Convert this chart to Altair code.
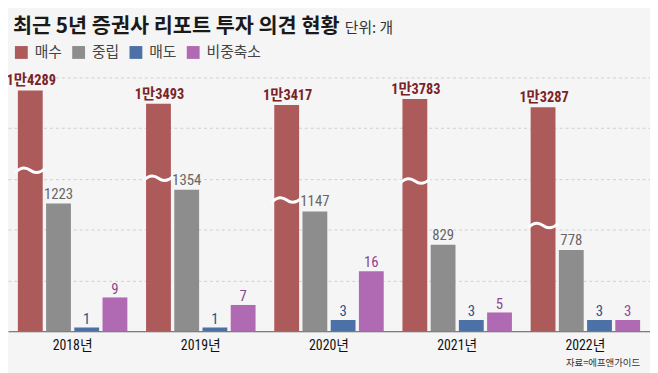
import altair as alt
import pandas as pd

# ---- data ----
years = ["2018", "2019", "2020", "2021", "2022"]
series = ["매수", "중립", "매도", "비중축소"]
buy = [14289, 13493, 13417, 13783, 13287]
neutral = [1223, 1354, 1147, 829, 778]
sell = [1, 1, 3, 3, 3]
reduce_w = [9, 7, 16, 5, 3]
# where the white "broken axis" squiggle sits on each 매수 bar (in 매수 units)
break_at = [9550, 9080, 7790, 8910, 6270]

title_text = "최근 5년 증권사 리포트 투자 의견 현황"
unit_text = "단위: 개"
source_text = "자료=에프앤가이드"

bar_colors = ["#ad5a5b", "#8d8d8d", "#4b71a6", "#b06ab3"]

rows = []
for i, y in enumerate(years):
    for s, vals in zip(series, [buy, neutral, sell, reduce_w]):
        rows.append({"year": y, "series": s, "value": vals[i], "brk": break_at[i]})
df = pd.DataFrame(rows)

NUM_FONT = "Liberation Sans Narrow, Roboto Condensed, Noto Sans CJK KR, sans-serif"
KR_FONT = "Noto Sans CJK KR"

W, H = 650, 257

x_enc = alt.X(
    "year:N",
    sort=years,
    scale=alt.Scale(paddingInner=0.146, paddingOuter=0.077),
    axis=alt.Axis(
        title=None, labelExpr="datum.label + '년'", labelAngle=0,
        labelFont=NUM_FONT, labelFontSize=14, labelColor="#111",
        ticks=False, domainColor="#555", domainWidth=1, labelPadding=7,
    ),
)
xo_enc = alt.XOffset(
    "series:N", scale=alt.Scale(domain=series, paddingInner=0.12, paddingOuter=0)
)
color_enc = alt.Color(
    "series:N",
    scale=alt.Scale(domain=series, range=bar_colors),
    legend=alt.Legend(
        orient="none", legendX=6, legendY=-33, direction="horizontal",
        title=None, symbolType="square", symbolSize=169, symbolStrokeWidth=0,
        symbolOpacity=1, labelFont=KR_FONT, labelFontSize=15, labelColor="#444",
        labelOffset=6, columnPadding=9,
    ),
)

base = alt.Chart(df)

# ---- 매수 (own broken scale) ----
red_scale = alt.Scale(domain=[0, 15060], nice=False, zero=True)
red_data = base.transform_filter(alt.datum.series == "매수")
red_bar = red_data.mark_bar().encode(
    x=x_enc, xOffset=xo_enc, color=color_enc,
    y=alt.Y("value:Q", scale=red_scale, axis=None),
)
red_wave = red_data.mark_point(
    shape="M -1 0.14 C -0.6 -0.26 -0.3 -0.22 0 0 C 0.3 0.22 0.6 0.26 1 -0.14",
    size=900, filled=False, color="white", strokeWidth=3, opacity=1,
).encode(
    x=x_enc, xOffset=xo_enc,
    y=alt.Y("brk:Q", scale=red_scale, axis=None),
)
red_text = red_data.transform_calculate(
    label="floor(datum.value / 10000) + '만' + (datum.value % 10000)"
).mark_text(
    baseline="alphabetic", dy=-5, dx=1, font=NUM_FONT, fontSize=14.5, fontWeight="bold",
    color="#7a2327",
).encode(
    x=x_enc, xOffset=xo_enc,
    y=alt.Y("value:Q", scale=red_scale, axis=None),
    text="label:N",
)
red_layer = alt.layer(red_bar, red_wave, red_text)

# ---- 중립 ----
gray_scale = alt.Scale(domain=[0, 2430], nice=False, zero=True)
gray_data = base.transform_filter(alt.datum.series == "중립")
gray_bar = gray_data.mark_bar().encode(
    x=x_enc, xOffset=xo_enc, color=color_enc,
    y=alt.Y(
        "value:Q", scale=gray_scale,
        axis=alt.Axis(
            values=[486, 972, 1458, 1944, 2430], labels=False, ticks=False,
            domain=False, title=None, grid=True, gridColor="#cfcfcf",
            gridDash=[3, 3], gridWidth=1,
        ),
    ),
)
gray_text = gray_data.mark_text(
    baseline="alphabetic", dy=-5, font=NUM_FONT, fontSize=15, color="#666666",
).encode(
    x=x_enc, xOffset=xo_enc,
    y=alt.Y("value:Q", scale=gray_scale),
    text="value:Q",
)
gray_layer = alt.layer(gray_bar, gray_text)

# ---- 매도 / 비중축소 ----
small_scale = alt.Scale(domain=[0, 67.6], nice=False, zero=True)
small_data = base.transform_filter(
    alt.FieldOneOfPredicate(field="series", oneOf=["매도", "비중축소"])
)
small_bar = small_data.mark_bar().encode(
    x=x_enc, xOffset=xo_enc, color=color_enc,
    y=alt.Y("value:Q", scale=small_scale, axis=None),
)
small_text = small_data.mark_text(
    baseline="alphabetic", dy=-4, font=NUM_FONT, fontSize=15,
).encode(
    x=x_enc, xOffset=xo_enc,
    y=alt.Y("value:Q", scale=small_scale, axis=None),
    text="value:Q",
    color=alt.condition(alt.datum.series == "매도", alt.value("#2c5386"), alt.value("#8d4690")),
)
small_layer = alt.layer(small_bar, small_text)

# ---- texts ----
title = alt.Chart(pd.DataFrame({"t": [title_text]})).mark_text(
    align="left", baseline="middle", font=KR_FONT, fontSize=21, fontWeight="bold",
    color="#1a1a1a",
).encode(x=alt.value(5), y=alt.value(-51), text="t:N")
unit = alt.Chart(pd.DataFrame({"t": [unit_text]})).mark_text(
    align="left", baseline="middle", font=KR_FONT, fontSize=15, color="#333333",
).encode(x=alt.value(341), y=alt.value(-50), text="t:N")
source = alt.Chart(pd.DataFrame({"t": [source_text]})).mark_text(
    align="right", baseline="middle", font=KR_FONT, fontSize=9.5, color="#333333",
).encode(x=alt.value(640), y=alt.value(289), text="t:N")

chart = (
    alt.layer(gray_layer, red_layer, small_layer, title, unit, source)
    .resolve_scale(y="independent")
    .properties(
        width=W, height=H, background="#f5f5f5",
        autosize=alt.AutoSizeParams(type="none"),
        padding={"left": 0, "top": 68, "right": 0, "bottom": 40},
    )
    .configure_view(stroke=None)
)

chart.save("out.html", embed_options={"renderer": "svg", "actions": False})
